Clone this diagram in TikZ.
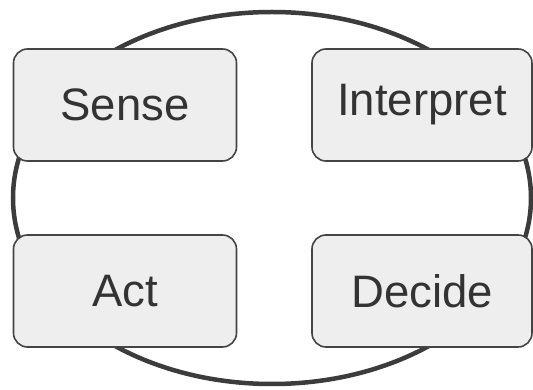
\documentclass[tikz,border=0pt]{standalone}
\usepackage{fontspec}
\setmainfont{Liberation Sans}
\usetikzlibrary{shapes.geometric}
\definecolor{boxfill}{HTML}{EEEEEE}
\definecolor{boxline}{HTML}{444444}
\definecolor{ringcol}{HTML}{3C3C3C}
\definecolor{txt}{HTML}{333333}
\begin{document}
\begin{tikzpicture}[x=1pt,y=-1pt,
  stagebox/.style={draw=boxline, line width=1.6pt, fill=boxfill, rounded corners=14pt,
    minimum width=223pt, minimum height=112pt, inner sep=0pt,
    text=txt, font=\fontsize{45.5}{54}\selectfont},
  ring/.style={draw=ringcol, line width=4.5pt}]
\useasboundingbox (0,0) rectangle (533,390);
\node[ring, ellipse, minimum width=518pt, minimum height=372pt, inner sep=0pt] (loop) at (272,198) {};
\node[stagebox] (sense) at (125,105) {Sense};
\node[stagebox, minimum width=220pt] (interpret) at (422,105) {Interpret};
\node[stagebox] (act) at (125,291) {Act};
\node[stagebox, minimum width=220pt] (decide) at (422,291) {Decide};
\end{tikzpicture}
\end{document}
